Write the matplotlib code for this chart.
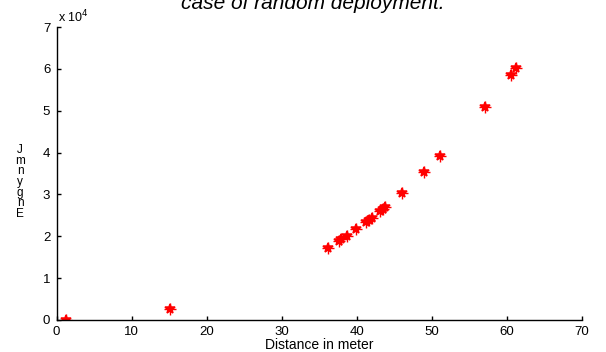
import matplotlib
matplotlib.use("Agg")
import matplotlib.pyplot as plt

plt.rcParams['font.family'] = ['Liberation Sans', 'DejaVu Sans']

distance = [1.2, 15.1, 36.1, 37.6, 37.9, 38.7, 39.9, 41.2, 41.6, 42.0,
            43.1, 43.5, 43.8, 46.0, 49.0, 51.1, 57.1, 60.6, 61.2]
energy = [0, 2600, 17100, 18800, 19300, 20000, 21700, 23400, 23800, 24400,
          26000, 26600, 27100, 30400, 35300, 39300, 50800, 58600, 60100]
xticks = [0, 10, 20, 30, 40, 50, 60, 70]
yticks = [0, 1, 2, 3, 4, 5, 6, 7]

fig = plt.figure(figsize=(6.06, 3.52), dpi=100)
ax = fig.add_axes([56.5/606, 32/352, (582-56.5)/606, (320-27)/352])

ax.plot(distance, energy, linestyle='none', marker='*', color='red',
        markersize=7, markeredgewidth=1.1)
ax.plot(distance, energy, linestyle='none', marker='+', color='red',
        markersize=9, markeredgewidth=1.0)

ax.set_xlim(0, 70)
ax.set_ylim(0, 70000)
ax.set_xticks(xticks)
ax.set_xticklabels([str(t) for t in xticks])
ax.set_yticks([t * 10000 for t in yticks])
ax.set_yticklabels([str(t) for t in yticks])
ax.tick_params(direction='in', length=3, width=1, labelsize=9.5)
ax.tick_params(axis='x', pad=4)
ax.tick_params(axis='y', pad=4.5)
for s in ['top', 'right']:
    ax.spines[s].set_visible(False)
for s in ['left', 'bottom']:
    ax.spines[s].set_linewidth(1.0)

ax.set_xlabel('Distance in meter', fontsize=10, labelpad=0)

fig.text(58/606, 1 - 22/352, r'x 10$^{4}$', fontsize=9, ha='left', va='baseline')

fig.text(20/606, 1 - 182/352, 'J\nm\nn\ny\ng\nn\nE', fontsize=8.5, ha='center',
         va='center', linespacing=0.85)

fig.text(313/606, 1 - 9/352, 'case of random deployment.', fontsize=15,
         style='italic', ha='center', va='baseline')

fig.savefig('out.png', dpi=100)
